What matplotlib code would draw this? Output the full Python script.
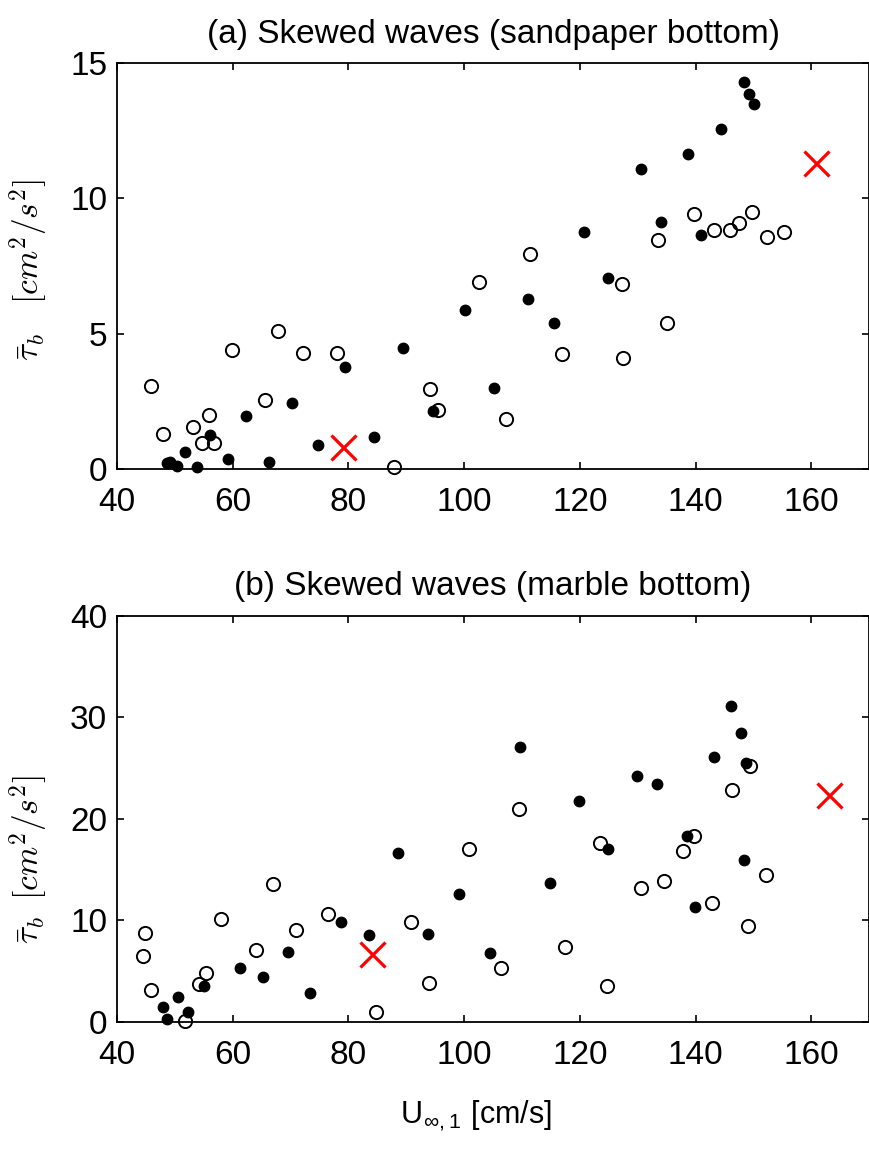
import numpy as np
import matplotlib
matplotlib.use("Agg")
import matplotlib.pyplot as plt

plt.rcParams['font.family'] = ['Liberation Sans', 'DejaVu Sans']
plt.rcParams['mathtext.fontset'] = 'cm'

# (a) sandpaper bottom
a_fill_x = [48.7, 49.1, 50.3, 51.8, 53.8, 56.0, 59.2, 62.3, 66.3, 70.3, 74.7, 79.4, 84.4, 89.4,
            94.7, 100.1, 105.1, 111.0, 115.5, 120.8, 124.8, 130.5, 134.1, 138.7, 141.0, 144.4,
            148.3, 149.3, 150.1]
a_fill_y = [0.2, 0.25, 0.1, 0.63, 0.05, 1.25, 0.37, 1.94, 0.26, 2.43, 0.89, 3.75, 1.17, 4.47,
            2.15, 5.88, 3.0, 6.27, 5.40, 8.75, 7.05, 11.09, 9.13, 11.64, 8.66, 12.57,
            14.32, 13.85, 13.48]
a_open_x = [45.9, 47.9, 53.2, 54.7, 55.9, 56.8, 59.8, 65.6, 67.8, 72.1, 78.0, 87.8, 94.1, 95.4,
            102.6, 107.2, 111.4, 117.0, 127.2, 127.5, 133.5, 135.0, 139.7, 143.1, 145.9, 147.5,
            149.7, 152.4, 155.3]
a_open_y = [3.07, 1.27, 1.53, 0.94, 1.98, 0.96, 4.40, 2.53, 5.09, 4.28, 4.28, 0.07, 2.93, 2.17,
            6.90, 1.83, 7.96, 4.26, 6.84, 4.09, 8.46, 5.40, 9.44, 8.85, 8.84, 9.10,
            9.48, 8.59, 8.77]
a_cross_x = [79.1, 160.9]
a_cross_y = [0.80, 11.31]

# (b) marble bottom
b_fill_x = [47.9, 48.7, 50.6, 52.3, 55.1, 61.2, 65.2, 69.6, 73.3, 78.7, 83.5, 88.6, 93.8, 99.1,
            104.4, 109.6, 114.9, 119.9, 124.8, 129.8, 133.3, 138.6, 139.9, 143.1, 146.1, 147.9,
            148.3, 148.8]
b_fill_y = [1.45, 0.30, 2.46, 0.96, 3.49, 5.26, 4.40, 6.84, 2.83, 9.85, 8.57, 16.62, 8.61, 12.58,
            6.72, 27.1, 13.70, 21.77, 17.04, 24.21, 23.45, 18.27, 11.27, 26.11, 31.07, 28.47,
            15.93, 25.49]
b_open_x = [44.9, 44.5, 45.8, 51.7, 54.2, 55.3, 57.9, 64.0, 66.9, 71.0, 76.4, 84.7, 90.8, 93.9,
            100.9, 106.4, 109.4, 117.4, 123.4, 124.7, 130.5, 134.5, 137.9, 139.7, 142.9, 146.3,
            149.0, 149.4, 152.2]
b_open_y = [8.77, 6.47, 3.09, 0.04, 3.74, 4.80, 10.12, 7.03, 13.57, 9.06, 10.64, 0.99, 9.82, 3.81,
            17.05, 5.29, 20.99, 7.39, 17.64, 3.52, 13.17, 13.89, 16.85, 18.33, 11.69, 22.80,
            9.46, 25.22, 14.42]
b_cross_x = [84.1, 163.1]
b_cross_y = [6.67, 22.30]

xticks = [40, 60, 80, 100, 120, 140, 160]

fig = plt.figure(figsize=(8.7, 11.56), dpi=100)
ax1 = fig.add_axes([0.1345, 0.5946, 0.8645, 0.3506])
ax2 = fig.add_axes([0.1345, 0.1162, 0.8645, 0.3512])

panels = [
    (ax1, a_fill_x, a_fill_y, a_open_x, a_open_y, a_cross_x, a_cross_y,
     [0, 15], [0, 5, 10, 15], "(a) Skewed waves (sandpaper bottom)",
     r'$\bar{\tau}_b\quad[cm^2/s^2]$', 0.489),
    (ax2, b_fill_x, b_fill_y, b_open_x, b_open_y, b_cross_x, b_cross_y,
     [0, 40], [0, 10, 20, 30, 40], "(b) Skewed waves (marble bottom)",
     r'$\bar{\tau}_b\;\;[cm^2/s^2]$', 0.40),
]

for ax, fx, fy, ox, oy, cx, cy, ylim, yticks, title, ylab, ly in panels:
    ax.plot(ox, oy, 'o', mfc='none', mec='black', ms=9.5, mew=1.4, clip_on=False, zorder=3)
    ax.plot(fx, fy, 'o', color='black', ms=7.5, clip_on=False, zorder=4)
    ax.plot(cx, cy, 'x', color='red', ms=18, mew=2.3, clip_on=False, zorder=5)
    ax.set_xlim(40, 170)
    ax.set_ylim(*ylim)
    ax.set_xticks(xticks)
    ax.set_yticks(yticks)
    ax.tick_params(direction='in', top=True, right=True, length=5, width=1.2, labelsize=24)
    ax.tick_params(axis='x', pad=13)
    ax.tick_params(axis='y', pad=7)
    for s in ax.spines.values():
        s.set_linewidth(1.3)
    ax.set_title(title, fontsize=24, pad=15)
    ax.set_ylabel(ylab, fontsize=24)
    ax.yaxis.set_label_coords(-0.088, ly)

ax2.set_xlabel(r'U$_{\mathregular{∞,1}}$ [cm/s]', fontsize=22)
ax2.xaxis.set_label_coords(0.477, -0.19)

fig.savefig('out.png', dpi=100)
